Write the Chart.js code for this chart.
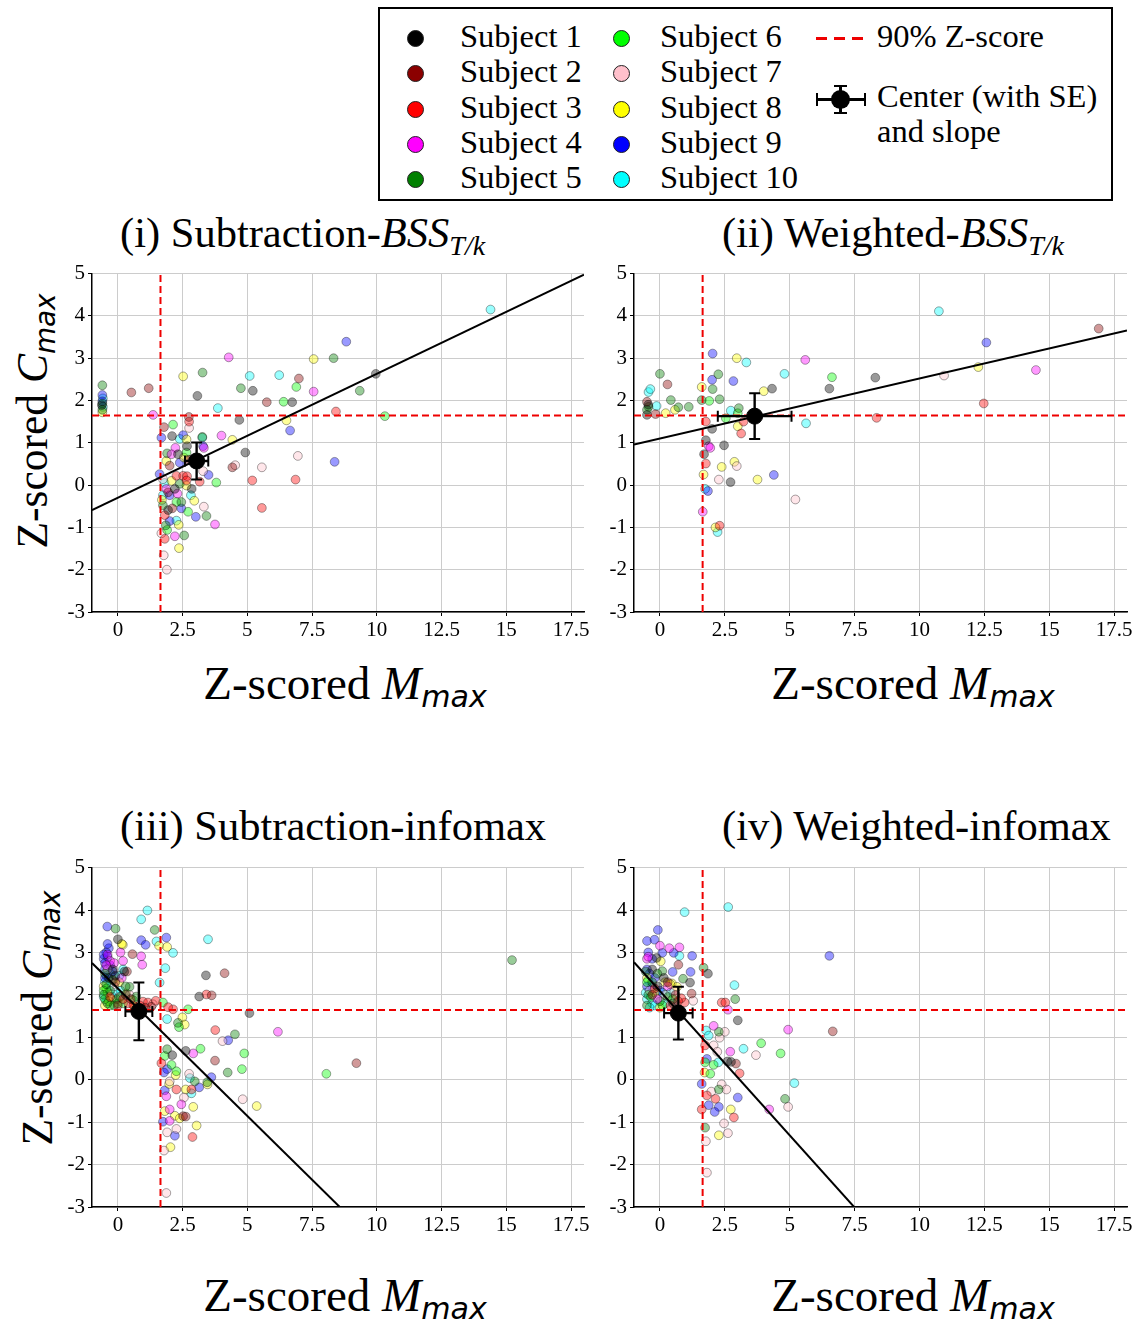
<!DOCTYPE html>
<html>
<head>
<meta charset="utf-8">
<script src="https://cdn.jsdelivr.net/npm/chart.js@4.4.1/dist/chart.umd.min.js"></script>
<style>
  body { margin: 0; background: #fff; width: 1137px; height: 1319px; position: relative; overflow: hidden;
         font-family: "Liberation Serif", "Times New Roman", serif; color: #000; }
  canvas { position: absolute; }
  .title { position: absolute; font-size: 42.5px; line-height: 1; white-space: nowrap; }
  .title sub { font-size: 28px; vertical-align: -8px; line-height: 0; }
  .xlab, .ylab { position: absolute; font-size: 47px; line-height: 1; white-space: nowrap; transform: translate(-50%, -50%); }
  .ylab { font-size: 43.5px; transform: translate(-50%, -50%) rotate(-90deg); }
  .xlab sub, .ylab sub { font-family: "DejaVu Sans", sans-serif; font-style: oblique; font-size: 0.64em; vertical-align: -0.28em; line-height: 0; }
  #legend { position: absolute; left: 378px; top: 7px; width: 735px; height: 194px; box-sizing: border-box; border: 2px solid #000; }
  .li { position: absolute; font-size: 32.5px; line-height: 1; white-space: nowrap; }
  .dot { position: absolute; width: 15px; height: 15px; border-radius: 50%; border: 1px solid #222; }
</style>
</head>
<body>
<div id="legend"></div>

<div class="title" style="left:120px; top:212px">(i) Subtraction-<i>BSS</i><sub><i>T/k</i></sub></div>
<div class="title" style="left:722px; top:212px">(ii) Weighted-<i>BSS</i><sub><i>T/k</i></sub></div>
<div class="title" style="left:120px; top:805px">(iii) Subtraction-infomax</div>
<div class="title" style="left:722px; top:805px">(iv) Weighted-infomax</div>

<div class="xlab" style="left:345px; top:683px">Z-scored <i>M</i><sub>max</sub></div>
<div class="xlab" style="left:913px; top:683px">Z-scored <i>M</i><sub>max</sub></div>
<div class="xlab" style="left:345px; top:1295px">Z-scored <i>M</i><sub>max</sub></div>
<div class="xlab" style="left:913px; top:1295px">Z-scored <i>M</i><sub>max</sub></div>
<div class="ylab" style="left:33px; top:421px">Z-scored <i>C</i><sub>max</sub></div>
<div class="ylab" style="left:38px; top:1018px">Z-scored <i>C</i><sub>max</sub></div>

<canvas id="c1" width="552" height="394" style="left:42px; top:258px"></canvas>
<canvas id="c2" width="553" height="394" style="left:584px; top:258px"></canvas>
<canvas id="c3" width="552" height="395" style="left:42px; top:852px"></canvas>
<canvas id="c4" width="553" height="395" style="left:584px; top:852px"></canvas>

<script>
// subjects and their colours
var subjects = ['Subject 1', 'Subject 2', 'Subject 3', 'Subject 4', 'Subject 5',
                'Subject 6', 'Subject 7', 'Subject 8', 'Subject 9', 'Subject 10'];
var subjectColors = ['#000000', '#8b0000', '#ff0000', '#ff00ff', '#008000',
                     '#00ff00', '#ffc0cb', '#ffff00', '#0000ff', '#00ffff'];

var xTicks = [0, 2.5, 5, 7.5, 10, 12.5, 15, 17.5];
var yTicks = [-3, -2, -1, 0, 1, 2, 3, 4, 5];
var threshold = 1.645; // 90% Z-score

// fit line (intercept, slope), centre and SE per panel: i, ii, iii, iv
var fitIntercept = [-0.30, 1.10, 2.15, 2.09];
var fitSlope = [0.293, 0.142, -0.601, -0.68];
var centerX = [3.04, 3.65, 0.81, 0.71];
var centerY = [0.57, 1.63, 1.61, 1.57];
var seX = [0.45, 1.42, 0.52, 0.55];
var seY = [0.44, 0.54, 0.68, 0.62];

// points: [Z-scored Mmax, Z-scored Cmax, subject]
var pointsSubBSS = [
  [-0.6,2.36,5],[-0.6,2.13,9],[-0.58,2.05,10],[-0.6,1.93,5],[-0.58,1.85,10],[-0.6,1.78,5],[-0.62,1.89,1],[-0.6,1.72,8],[-0.6,1.98,9],
  [0.52,2.19,2],[1.19,2.29,2],[1.36,1.66,4],[2.52,2.57,8],[3.27,2.66,5],[4.28,3.02,4],[3.07,2.11,1],[2.74,1.61,2],[3.86,1.82,10],
  [4.75,2.29,5],[5.21,2.23,1],[5.09,2.58,10],[5.75,1.96,2],[6.23,2.60,10],[6.40,1.97,6],[6.73,1.96,1],[6.89,2.32,6],[6.99,2.52,2],
  [7.56,2.98,8],[7.56,2.21,4],[8.33,3.0,5],[8.82,3.39,9],[9.96,2.63,1],[9.34,2.23,5],[8.42,1.74,3],[10.31,1.63,6],[14.39,4.15,10],
  [6.51,1.53,8],[6.65,1.29,9],[4.69,1.54,1],[4.92,0.77,1],[4.0,1.17,4],[4.42,1.07,8],[6.95,0.69,7],[8.37,0.55,9],[4.53,0.47,7],
  [4.42,0.42,2],[5.56,0.42,7],[5.19,0.11,3],[6.86,0.13,3],[3.80,0.06,6],[5.56,-0.54,3],[3.75,-0.93,4],[3.42,-0.73,5],[3.32,-0.51,7],
  [2.95,-0.37,8],[3.01,-0.75,9],[3.50,0.24,9],[3.29,0.33,7],[3.16,0.08,3],[2.82,-0.24,10],[2.85,-0.09,1],[2.36,-1.49,8],[2.56,-1.19,5],
  [1.77,-1.66,7],[1.89,-2.0,7],[1.81,-1.27,3],[1.68,-1.14,7],[2.2,-1.21,4],[2.35,-0.94,8],[2.26,-0.84,10],[2.0,-0.85,9],[1.81,-0.71,3],
  [1.90,-1.06,6],[2.13,1.43,6],[1.78,1.37,2],[1.68,1.12,9],[2.09,1.16,1],[2.39,1.09,10],[2.52,1.18,9],[2.75,1.35,7],[2.75,1.50,3],
  [3.26,1.14,5],[3.29,0.92,9],[2.22,0.88,4],[2.67,0.92,1],[1.90,0.75,5],[2.07,0.73,4],[1.87,0.57,8],[2.0,0.46,2],[2.39,0.53,9],
  [2.26,0.22,3],[2.52,0.22,3],[2.67,0.21,3],[1.61,0.26,9],[1.74,0.14,7],[2.07,0.10,8],[2.39,0.03,5],[2.65,-0.01,8],[1.87,-0.09,4],
  [1.94,-0.17,2],[2.0,-0.24,9],[2.26,-0.40,6],[2.45,-0.40,5],[2.45,-0.55,9],[1.74,-0.48,5],[1.94,-0.59,1],[2.2,-0.09,1],[2.65,0.11,3],
  [2.71,-0.63,6],[1.74,-0.24,10],[2.65,0.77,6],[2.65,1.08,8],[2.32,0.73,1],[3.26,1.12,10],[2.72,0.6,2],[2.55,0.65,8],[3.32,0.88,4],
  [1.70,-0.35,8],[1.85,-0.95,5],[2.10,-0.55,2],[1.80,0.05,10],[2.30,-0.20,4]
];

var pointsWgtBSS = [
  [-0.50,1.97,2],[-0.44,1.85,5],[-0.50,1.66,1],[-0.13,1.87,10],[-0.44,2.20,10],[-0.37,2.27,10],[0,2.63,5],[0.29,2.38,2],[0.42,2.01,5],
  [0.22,1.70,8],[0.58,1.78,8],[0.71,1.84,5],[1.11,1.85,5],[-0.17,1.68,2],[-0.5,1.78,5],[-0.45,1.9,1],
  [1.61,2.32,8],[1.61,2.01,5],[1.90,1.99,6],[2.03,3.11,9],[2.01,2.49,9],[2.03,2.27,5],[2.25,2.62,5],[2.30,2.03,5],[2.96,3.0,8],
  [3.33,2.90,10],[2.83,2.46,9],[2.73,1.76,10],[3.04,1.82,5],[3.0,1.70,6],[2.54,1.58,6],[3.22,1.50,3],[3.0,1.39,8],[3.13,1.22,3],
  [1.77,1.50,3],[2.01,1.33,1],[1.77,1.06,1],[1.88,0.92,4],[1.94,0.88,4],[2.47,0.94,1],[1.70,0.73,1],[1.77,0.51,3],[2.87,0.55,8],
  [2.96,0.45,7],[2.38,0.43,8],[1.68,0.25,8],[2.27,0.13,7],[2.72,0.07,1],[3.76,0.13,8],[4.39,0.24,9],[1.85,-0.14,9],[1.74,-0.09,10],
  [1.65,-0.63,4],[2.30,-0.96,3],[2.14,-1.0,8],[2.22,-1.11,10],[5.22,-0.34,7],[4.0,2.22,8],[4.32,2.28,1],[4.80,2.63,10],[5.60,2.96,4],
  [5.63,1.46,10],[6.53,2.28,1],[6.63,2.55,6],[8.30,2.54,1],[8.35,1.59,3],[10.75,4.11,10],[10.95,2.59,7],[12.27,2.79,8],[12.58,3.37,9],
  [12.48,1.93,3],[14.49,2.72,4],[16.91,3.70,2]
];

var pointsSubInfomax = [
  [1.14,3.99,10],[0.90,3.78,10],[1.42,3.53,5],[-0.41,3.61,9],[-0.09,3.56,5],[0,3.31,1],[0.90,3.29,9],[1.07,3.18,9],[1.49,3.26,10],
  [1.59,3.16,8],[1.87,3.35,9],[1.90,3.13,8],[2.13,2.99,10],[3.48,3.31,10],[0.90,2.91,4],[0.94,2.71,4],[0.56,2.96,2],[0.19,3.18,8],
  [1.83,2.63,10],[1.61,2.29,10],[15.22,2.82,5],[3.40,2.46,1],[4.12,2.51,2],[3.14,1.96,1],[3.42,2.01,3],[3.62,1.99,2],[5.08,1.57,1],
  [2.13,1.66,3],[2.71,1.66,6],[1.90,1.43,10],[2.49,1.47,8],[2.32,1.34,5],[2.58,1.30,8],[2.36,1.24,6],[3.76,1.17,3],[4.52,1.07,5],
  [4.26,0.93,9],[4.04,0.91,7],[6.18,1.13,4],[3.19,0.73,6],[2.62,0.68,1],[2.91,0.62,4],[4.88,0.62,6],[3.75,0.45,2],[4.24,0.17,5],
  [4.79,0.25,6],[8.05,0.14,6],[9.21,0.39,2],[1.90,0.72,5],[2.10,0.58,1],[1.81,0.56,6],[1.68,0.39,3],[2.07,0.35,6],[1.90,0.25,9],
  [2.26,0.20,6],[2.23,0.11,8],[1.78,0.17,9],[2.75,0.14,7],[2.78,0.04,10],[2.97,-0.04,5],[3.61,0.06,9],[3.46,-0.11,8],[3.45,-0.06,5],
  [3.14,-0.18,9],[2.0,-0.04,7],[1.98,-0.10,8],[2.26,-0.23,3],[2.62,-0.23,8],[2.84,-0.23,3],[2.84,-0.32,10],[1.81,-0.25,9],[1.87,-0.39,4],
  [2.55,-0.42,7],[4.82,-0.46,7],[5.36,-0.62,8],[2.45,-0.58,4],[2.91,-0.64,8],[2.0,-0.70,4],[1.81,-0.74,8],[2.20,-0.85,8],[2.39,-0.91,8],
  [2.52,-0.86,2],[2.62,-0.87,2],[2.0,-0.97,4],[1.74,-0.99,9],[3.04,-1.08,8],[2.26,-1.16,7],[1.90,-1.24,7],[2.20,-1.32,9],[2.88,-1.35,3],
  [2.03,-1.59,8],[1.78,-1.67,7],[1.87,-2.67,7],
  [0.97,1.84,3],[1.16,1.82,3],[1.46,1.86,3],[1.74,1.82,6],[1.94,1.71,3],[1.29,1.72,2],[0.58,1.88,6],[0.71,1.96,5],[0.32,2.03,8],[0.45,2.19,5],
  [0.85,1.75,3],[1.05,1.70,2],[1.35,1.78,7],[0.65,1.72,8],
  [-0.55,2.85,9],[-0.5,2.75,9],[-0.45,3.0,9],[-0.5,2.6,9],[-0.4,2.9,9],[-0.35,3.1,9],[-0.3,2.7,9],[-0.45,2.45,9],[-0.2,2.55,9],
  [-0.55,2.95,9],[-0.4,3.2,9],[-0.5,2.4,9],
  [-0.4,2.95,4],[-0.3,2.8,4],[0.1,3.0,4],[0.2,2.8,4],[-0.15,2.75,4],[0.15,2.4,4],[-0.45,2.7,4],
  [-0.5,2.3,10],[-0.35,2.2,10],[-0.1,2.05,10],[0.05,2.45,10],[-0.2,1.95,10],[0.2,2.6,10],[0.1,2.1,10],[-0.45,1.85,10],[-0.3,2.5,10],[-0.55,1.95,10],
  [-0.55,2.0,5],[-0.4,1.8,5],[-0.3,2.1,5],[-0.05,1.9,5],[0.1,1.95,5],[-0.5,2.5,5],[-0.2,2.35,5],[0.3,2.2,5],[-0.45,2.25,5],[-0.15,1.75,5],
  [-0.5,1.9,6],[-0.3,1.75,6],[0.0,1.8,6],[-0.45,2.15,6],[0.2,1.8,6],[-0.55,2.1,6],
  [-0.55,2.2,8],[-0.4,2.05,8],[-0.25,1.9,8],[0.15,3.2,8],[0.05,2.3,8],[-0.5,1.75,8],[-0.35,1.85,8],
  [-0.2,2.6,1],[0.25,2.55,1],[-0.35,2.4,1],[0.3,2.0,1],[-0.1,2.45,1],
  [0.35,2.55,2],[-0.1,2.3,2],[0.0,1.75,2],[0.5,1.9,2],
  [-0.3,1.95,3],[0.4,1.8,3],[0.6,1.75,3],[0.2,1.9,3],
  [-0.15,2.2,7],[0.05,1.95,7],[-0.4,2.6,7],[0.45,2.0,7]
];

var pointsWgtInfomax = [
  [0.95,3.95,10],[2.63,4.07,10],[-0.08,3.53,9],[-0.50,3.27,9],[-0.21,3.30,9],[0,3.16,4],[0.36,3.10,4],[0.75,3.12,4],[0.53,2.99,9],
  [0.09,2.99,9],[0.75,2.92,10],[1.24,2.92,9],[6.53,2.92,9],[-0.13,2.87,1],[0.03,2.79,8],[0.71,2.71,2],[0.09,2.56,5],[0.49,2.54,9],
  [1.18,2.54,9],[0.89,2.38,5],[1.16,2.29,1],[1.68,2.64,5],[1.85,2.50,1],[2.87,2.23,10],[2.90,1.90,5],[0.46,2.27,8],[0.66,2.19,8],
  [1.22,2.03,2],[1.28,1.86,7],[0.95,1.82,3],[0.82,1.92,3],[2.38,1.82,3],[2.52,1.82,3],[2.62,1.65,4],[3.0,1.40,1],[1.78,1.16,10],
  [1.88,1.04,10],[2.07,1.27,4],[2.27,1.13,5],[2.50,1.13,7],[2.30,0.99,7],[2.07,0.81,7],[1.74,0.81,3],[2.21,0.66,7],[2.71,0.66,4],
  [3.22,0.73,10],[3.90,0.86,6],[3.70,0.58,7],[4.65,0.62,6],[4.94,1.18,4],[6.66,1.14,2],[1.81,0.49,9],[1.74,0.41,6],[2.07,0.35,6],
  [2.25,0.41,10],[2.60,0.43,1],[2.74,0.42,1],[2.93,0.38,2],[3.07,0.15,3],[1.72,0.17,8],[1.94,0.14,6],[1.61,-0.10,9],[2.38,-0.11,7],
  [2.27,-0.23,5],[2.56,-0.23,7],[5.18,-0.08,10],[3.0,-0.42,9],[1.98,-0.28,7],[1.81,-0.37,3],[2.14,-0.45,3],[1.88,-0.60,9],[2.27,-0.64,9],
  [2.11,-0.76,9],[1.61,-0.70,3],[2.73,-0.70,8],[4.21,-0.70,4],[4.82,-0.45,5],[4.94,-0.64,7],[2.85,-0.89,3],[2.47,-1.03,7],[1.74,-1.13,5],
  [2.27,-1.31,8],[2.62,-1.26,7],[1.77,-1.45,7],[1.81,-2.19,7],
  [-0.5,2.6,9],[-0.4,2.5,9],[-0.3,2.2,9],[0.0,2.1,9],[-0.5,2.2,9],[-0.2,2.4,9],[-0.45,3.0,9],[-0.3,2.85,9],
  [-0.5,2.85,4],[-0.45,2.9,4],[0.3,2.2,4],[-0.1,1.9,4],
  [-0.5,1.9,10],[-0.3,1.8,10],[0.1,2.05,10],[0.4,2.05,10],[-0.45,2.35,10],[0.2,1.8,10],[-0.2,1.75,10],[-0.55,2.05,10],[-0.4,1.7,10],
  [-0.45,2.0,5],[-0.3,2.3,5],[0.0,1.85,5],[0.3,1.95,5],[-0.5,1.75,5],[-0.1,2.5,5],[-0.55,2.55,5],
  [-0.35,1.95,6],[0.1,1.75,6],[0.5,1.9,6],[-0.5,2.3,6],
  [-0.5,2.4,8],[-0.2,2.05,8],[0.2,2.3,8],[0.0,1.7,8],[0.4,2.25,8],
  [-0.3,2.6,1],[-0.1,2.2,1],[0.5,1.8,1],[0.15,2.4,1],
  [0.3,2.3,2],[-0.3,2.0,2],[0.6,2.0,2],
  [-0.2,2.15,3],[0.4,1.75,3],[0.7,1.85,3],
  [0.2,2.0,7],[-0.4,2.1,7],[0.55,2.1,7]
];

var panelPoints = [pointsSubBSS, pointsWgtBSS, pointsSubInfomax, pointsWgtInfomax];
var xMin = -1, xMax = 18, yMin = -3, yMax = 5;

function rgba(hex, a) {
    var r = parseInt(hex.substr(1, 2), 16), g = parseInt(hex.substr(3, 2), 16), b = parseInt(hex.substr(5, 2), 16);
    return 'rgba(' + r + ',' + g + ',' + b + ',' + a + ')';
}

// legend (html)
var legend = document.getElementById('legend');
for (var i = 0; i < subjects.length; i++) {
    var col = i < 5 ? 0 : 1;
    var row = i % 5;
    var cy = 29 + row * 35.3;
    var dot = document.createElement('div');
    dot.className = 'dot';
    dot.style.left = (col === 0 ? 27 : 233) + 'px';
    dot.style.top = (cy - 8) + 'px';
    dot.style.background = subjectColors[i];
    legend.appendChild(dot);
    var txt = document.createElement('div');
    txt.className = 'li';
    txt.textContent = subjects[i];
    txt.style.left = (col === 0 ? 80 : 280) + 'px';
    txt.style.top = (cy - 18) + 'px';
    legend.appendChild(txt);
}
legend.insertAdjacentHTML('beforeend',
    '<div style="position:absolute;left:436px;top:28px;width:48px;height:3px;' +
    'background:repeating-linear-gradient(90deg,#e00 0 11px,transparent 11px 18px)"></div>' +
    '<div class="li" style="left:497px;top:11px">90% Z-score</div>' +
    '<div style="position:absolute;left:436px;top:89px;width:50px;height:3px;background:#000"></div>' +
    '<div style="position:absolute;left:459px;top:76px;width:3px;height:29px;background:#000"></div>' +
    '<div style="position:absolute;left:454px;top:76px;width:13px;height:2px;background:#000"></div>' +
    '<div style="position:absolute;left:454px;top:103px;width:13px;height:2px;background:#000"></div>' +
    '<div style="position:absolute;left:436px;top:84px;width:2px;height:13px;background:#000"></div>' +
    '<div style="position:absolute;left:484px;top:84px;width:2px;height:13px;background:#000"></div>' +
    '<div style="position:absolute;left:451px;top:81px;width:19px;height:19px;border-radius:50%;background:#000"></div>' +
    '<div class="li" style="left:497px;top:71px">Center (with SE)</div>' +
    '<div class="li" style="left:497px;top:106px">and slope</div>');

Chart.defaults.font.family = '"Liberation Serif", "Times New Roman", serif';
Chart.defaults.font.size = 21;
Chart.defaults.color = '#000';

function drawPanel(canvasId, p) {
    var datasets = [];
    for (var s = 1; s <= subjects.length; s++) {
        var pts = panelPoints[p].filter(function (d) { return d[2] === s; })
                                .map(function (d) { return { x: d[0], y: d[1] }; });
        datasets.push({
            label: subjects[s - 1],
            data: pts,
            backgroundColor: rgba(subjectColors[s - 1], 0.4),
            borderColor: 'rgba(0,0,0,0.35)',
            borderWidth: 1,
            pointRadius: 4.4,
            order: 10
        });
    }
    // 90% Z-score lines
    datasets.push({
        data: [{ x: threshold, y: yMin }, { x: threshold, y: yMax }],
        showLine: true, borderColor: '#ee0000', borderWidth: 2, borderDash: [7, 4], pointRadius: 0, order: 3
    });
    datasets.push({
        data: [{ x: xMin, y: threshold }, { x: xMax, y: threshold }],
        showLine: true, borderColor: '#ee0000', borderWidth: 2, borderDash: [7, 4], pointRadius: 0, order: 3
    });
    // slope line
    datasets.push({
        data: [{ x: xMin, y: fitIntercept[p] + fitSlope[p] * xMin }, { x: xMax, y: fitIntercept[p] + fitSlope[p] * xMax }],
        showLine: true, borderColor: '#000', borderWidth: 2, pointRadius: 0, order: 2
    });
    // SE bars
    datasets.push({
        data: [{ x: centerX[p], y: centerY[p] - seY[p] }, { x: centerX[p], y: centerY[p] + seY[p] }],
        showLine: true, borderColor: '#000', borderWidth: 2.4,
        pointStyle: 'line', pointRadius: 5.5, pointRotation: 0, pointBorderWidth: 2, pointBorderColor: '#000', order: 1
    });
    datasets.push({
        data: [{ x: centerX[p] - seX[p], y: centerY[p] }, { x: centerX[p] + seX[p], y: centerY[p] }],
        showLine: true, borderColor: '#000', borderWidth: 2.4,
        pointStyle: 'line', pointRadius: 5.5, pointRotation: 90, pointBorderWidth: 2, pointBorderColor: '#000', order: 1
    });
    datasets.push({
        data: [{ x: centerX[p], y: centerY[p] }],
        backgroundColor: '#000', borderColor: '#000', pointRadius: 8, order: 0
    });

    var ctx = document.getElementById(canvasId).getContext('2d');
    new Chart(ctx, {
        type: 'scatter',
        data: { datasets: datasets },
        options: {
            responsive: false,
            animation: false,
            events: [],
            layout: { padding: { top: 10, right: 10, left: 0, bottom: 0 } },
            plugins: { legend: { display: false }, tooltip: { enabled: false } },
            scales: {
                x: {
                    type: 'linear', min: xMin, max: xMax,
                    afterBuildTicks: function (scale) { scale.ticks = xTicks.map(function (v) { return { value: v }; }); },
                    afterFit: function (scale) { scale.height = 40; },
                    ticks: { callback: function (v) { return String(v); }, padding: 2, maxRotation: 0, autoSkip: false },
                    grid: { color: '#cccccc', lineWidth: 1, tickColor: '#000', tickLength: 4 },
                    border: { color: '#000', width: 1.5 }
                },
                y: {
                    type: 'linear', min: yMin, max: yMax,
                    afterBuildTicks: function (scale) { scale.ticks = yTicks.map(function (v) { return { value: v }; }); },
                    afterFit: function (scale) { scale.width = 50; },
                    ticks: { callback: function (v) { return String(v); }, padding: 3 },
                    grid: { color: '#cccccc', lineWidth: 1, tickColor: '#000', tickLength: 4 },
                    border: { color: '#000', width: 1.5 }
                }
            }
        }
    });
}

drawPanel('c1', 0);
drawPanel('c2', 1);
drawPanel('c3', 2);
drawPanel('c4', 3);
</script>
</body>
</html>
